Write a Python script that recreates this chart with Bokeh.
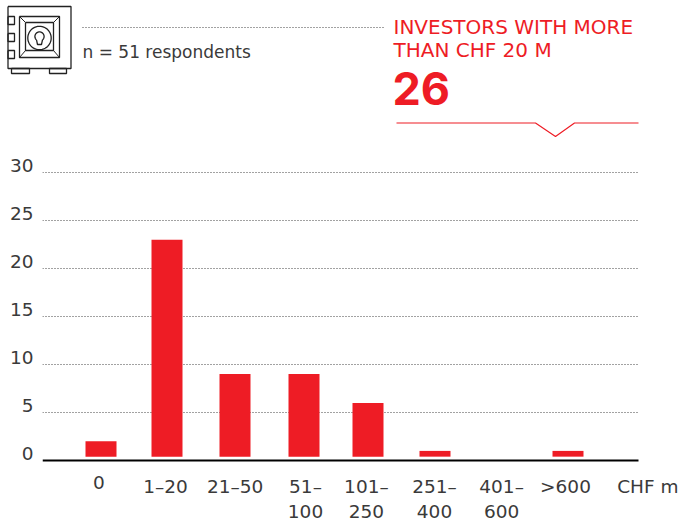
import numpy as np
from bokeh.core.properties import value
from bokeh.embed import file_html
from bokeh.layouts import column
from bokeh.resources import INLINE
from bokeh.plotting import figure
from bokeh.models import Range1d, FixedTicker

categories = ["0", "1–20", "21–50", "51–\n100", "101–\n250", "251–\n400", "401–\n600", ">600"]
counts = [2, 23, 9, 9, 6, 1, None, 1]
y_ticks = [0, 5, 10, 15, 20, 25, 30]
unit_label = "CHF m"
sample_note = "n = 51 respondents"
headline = ["INVESTORS WITH MORE", "THAN CHF 20 M"]
headline_value = "26"

RED = "#EE1C25"
INK = "#3a3a3a"
DOTS = "#444444"
DASH = "1 2"
FONT = "DejaVu Sans"
W, H = 679, 518
HEAD_BOTTOM = 138
LEFT, RIGHT, BASE, STEP, ORIGIN = 42, 638, 460, 66.6, 100.5
PX_PER_UNIT = 9.6
# small hand-placement shifts seen in the reference, in pixels
BAR_SHIFT = [0, -0.6, 0.8, 3.2, 0.6, 1, 0.9, 0.8]
LABEL_SHIFT = [-2, -2, 1, 4.7, -1, 0.5, 1, -1.7]

# ---- header strip: ranges are page pixels
head = figure(width=W, height=HEAD_BOTTOM, output_backend="svg", toolbar_location=None,
              min_border=0, x_axis_type=None, y_axis_type=None,
              x_range=Range1d(0, W), y_range=Range1d(HEAD_BOTTOM, 0))
head.frame_align = False
head.outline_line_color = None
head.grid.visible = False

def htext(x, y, s, size, color=INK, font=FONT, style="normal"):
    head.text([x], [y], text=[s], text_font=value(font), text_font_size=value(size),
              text_color=color, text_font_style=style, text_baseline="alphabetic")

htext(82, 51, sample_note, "17px")
htext(393, 26, headline[0], "20px", RED)
htext(393, 49, headline[1], "20px", RED)
htext(392, 88, headline_value, "45px", RED, "Inter", "bold")
head.line([82, 385], [27, 27], line_color=DOTS, line_dash=DASH, line_width=1)
head.line([396, 535, 555, 574, 638], [122.5, 122.5, 136, 122.5, 122.5], line_color=RED, line_width=1.2)

def poly(xs, ys, width=1.3):
    head.line(list(xs), list(ys), line_color="#222222", line_width=width)

def box(l, t, r, b, width=1.3):
    poly([l, r, r, l, l], [t, t, b, b, t], width)

box(7.5, 6, 70.5, 68)
box(19, 16, 59, 57)
box(25, 22, 53, 50)
for a, b, c, d in [(19, 16, 25, 22), (59, 16, 53, 22), (19, 57, 25, 50), (59, 57, 53, 50)]:
    poly([a, c], [b, d], 1)
for t, b in [(16, 24), (33, 41), (50, 58)]:
    box(7.5, t, 14, b)
for l, r in [(11, 29), (49, 66)]:
    box(l, 68, r, 73)
ang = np.linspace(0, 2 * np.pi, 48)
poly(39 + 11.7 * np.cos(ang), 37.5 + 11.7 * np.sin(ang))
ang2 = np.linspace(0.72 * np.pi, 2.28 * np.pi, 24)
poly(list(39 + 4.6 * np.cos(ang2)) + [41, 37, 39 + 4.6 * np.cos(ang2[0])],
     list(36 + 4.6 * np.sin(ang2)) + [44, 44, 36 + 4.6 * np.sin(ang2[0])])

# ---- chart
def dx(px):
    return (px - ORIGIN) / STEP

def dy(py):
    return (BASE - py) / PX_PER_UNIT

p = figure(width=W, height=H - HEAD_BOTTOM, output_backend="svg", toolbar_location=None,
           min_border_left=LEFT, min_border_right=0, min_border_top=0, min_border_bottom=0,
           x_axis_type=None,
           x_range=Range1d(dx(LEFT), dx(W)),
           y_range=Range1d(dy(H), dy(HEAD_BOTTOM)))
p.frame_align = False
p.outline_line_color = None
p.grid.visible = False

xpos = list(range(len(categories)))

LABEL_LIFT = 0.7
lifted = [t + LABEL_LIFT for t in y_ticks]
p.yaxis.ticker = FixedTicker(ticks=lifted)
p.yaxis.major_label_overrides = {k: str(t) for k, t in zip(lifted, y_ticks)}
p.yaxis.axis_line_color = None
p.yaxis.major_tick_line_color = None
p.yaxis.minor_tick_line_color = None
p.yaxis.major_tick_out = 0
p.yaxis.major_tick_in = 0
p.yaxis.major_label_standoff = 9
p.yaxis.major_label_text_font = FONT
p.yaxis.major_label_text_font_size = "18.5px"
p.yaxis.major_label_text_color = INK

grid_y = y_ticks[1:]
p.segment(x0=[dx(LEFT)] * len(grid_y), x1=[dx(RIGHT)] * len(grid_y), y0=grid_y, y1=grid_y,
          line_color=DOTS, line_dash=DASH, line_width=1)

bar_x = [x + s / STEP for x, c, s in zip(xpos, counts, BAR_SHIFT) if c is not None]
bar_top = [c for c in counts if c is not None]
p.vbar(x=bar_x, top=bar_top, bottom=0.4, width=31 / STEP, color=RED, line_color=None)
p.line([dx(LEFT), dx(RIGHT)], [0, 0], line_color="black", line_width=2)

label_x = [x + s / STEP for x, s in zip(xpos, LABEL_SHIFT)]
p.text(label_x, [dy(475)] * len(label_x), text=categories, text_font=value(FONT),
       text_font_size=value("18.5px"), text_color=INK, text_align="center", text_baseline="top",
       text_line_height=1.2)
p.text([dx(678)], [dy(475)], text=[unit_label], text_font=value(FONT),
       text_font_size=value("18.5px"), text_color=INK, text_align="right", text_baseline="top",
       text_line_height=1.2)

page = column(head, p, spacing=0)
open("out.html", "w").write(file_html(page, INLINE))
